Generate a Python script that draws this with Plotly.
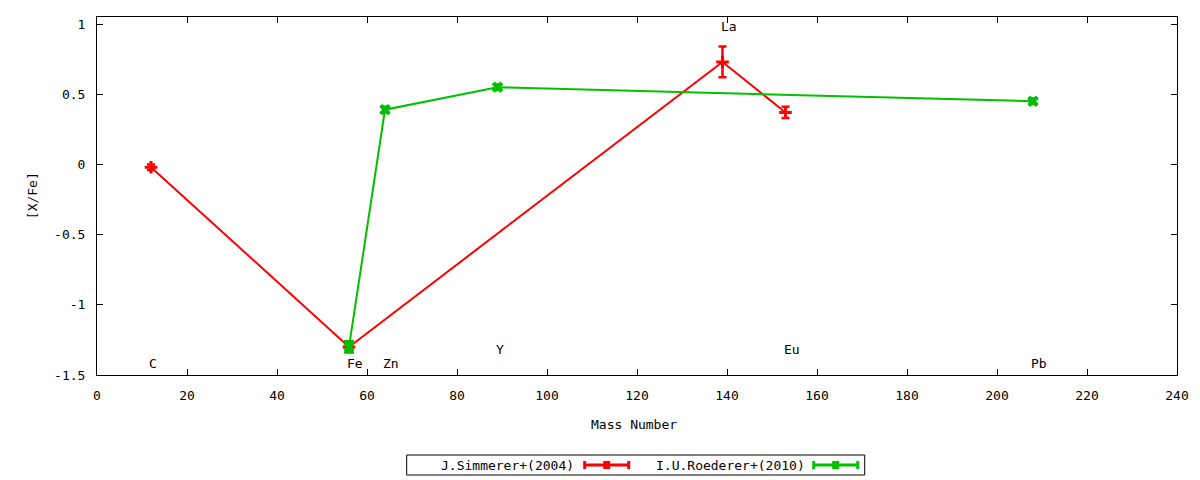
import plotly.graph_objects as go

# J.Simmerer+(2004)
simmerer_mass = [12, 56, 139, 153]
simmerer_xfe = [-0.02, -1.30, 0.73, 0.37]
simmerer_err = [0.02, 0.03, 0.11, 0.04]

# I.U.Roederer+(2010)
roederer_mass = [56, 64, 89, 208]
roederer_xfe = [-1.30, 0.39, 0.55, 0.45]
roederer_err = [0.04, 0.02, 0.02, 0.02]

# element labels
elem_names = ["C", "Fe", "Zn", "Y", "La", "Eu", "Pb"]
elem_x = [12, 56, 64, 89, 139, 153, 208]
elem_y = [-1.42, -1.42, -1.42, -1.32, 0.98, -1.32, -1.42]

RED = "#ff0000"
GREEN = "#00c000"
FONT = "DejaVu Sans Mono"

fig = go.Figure()

fig.add_trace(go.Scatter(
    x=simmerer_mass, y=simmerer_xfe,
    mode="lines+markers",
    name="J.Simmerer+(2004)",
    line=dict(color=RED, width=2),
    marker=dict(symbol="cross-thin", size=9, color=RED, line=dict(color=RED, width=3)),
    error_y=dict(type="data", array=simmerer_err, color=RED, thickness=2.5, width=4),
))

fig.add_trace(go.Scatter(
    x=roederer_mass, y=roederer_xfe,
    mode="lines+markers",
    name="I.U.Roederer+(2010)",
    line=dict(color=GREEN, width=2),
    marker=dict(symbol="x", size=10, color=GREEN),
    error_y=dict(type="data", array=roederer_err, color=GREEN, thickness=2.5, width=5),
))

annotations = []
for name, x, y in zip(elem_names, elem_x, elem_y):
    annotations.append(dict(
        x=x, y=y, xref="x", yref="y", text=name, showarrow=False,
        xanchor="left", yanchor="middle", xshift=-4,
        font=dict(family=FONT, size=13, color="black"),
    ))

# axis titles
annotations.append(dict(
    x=0.497, y=-0.139, xref="paper", yref="paper", text="Mass Number",
    showarrow=False, xanchor="center", yanchor="middle",
    font=dict(family=FONT, size=13, color="black"),
))
annotations.append(dict(
    x=-0.06, y=0.5, xref="paper", yref="paper", text="[X/Fe]", textangle=-90,
    showarrow=False, xanchor="center", yanchor="middle",
    font=dict(family=FONT, size=13, color="black"),
))

# gnuplot-style key below the plot (positions given in screen pixels)
def px(xp):
    return (xp - 97.3) / 1080.0


def py(yp):
    return (375.0 - yp) / 358.0


shapes = [dict(type="rect", xref="paper", yref="paper",
               x0=px(407), x1=px(865), y0=py(455), y1=py(475),
               line=dict(color="black", width=1), fillcolor="white")]

key = [("J.Simmerer+(2004)", RED, 576, 585, 629),
       ("I.U.Roederer+(2010)", GREEN, 807, 814, 858)]
for label, col, tx, l0, l1 in key:
    annotations.append(dict(
        x=px(tx), y=py(465), xref="paper", yref="paper", text=label,
        showarrow=False, xanchor="right", yanchor="middle",
        font=dict(family=FONT, size=13, color="black"),
    ))
    shapes.append(dict(type="line", xref="paper", yref="paper",
                       x0=px(l0), x1=px(l1), y0=py(465), y1=py(465),
                       line=dict(color=col, width=3)))
    for xe in (l0, l1):
        shapes.append(dict(type="line", xref="paper", yref="paper",
                           x0=px(xe), x1=px(xe), y0=py(461), y1=py(469),
                           line=dict(color=col, width=3)))
    mid = (l0 + l1) / 2
    shapes.append(dict(type="rect", xref="paper", yref="paper",
                       x0=px(mid - 3.5), x1=px(mid + 3.5), y0=py(461), y1=py(469),
                       line=dict(color=col, width=0), fillcolor=col))

# page body has an 8px margin, so the figure is offset by (8, 8)
fig.update_layout(
    width=1200, height=480,
    margin=dict(l=89, r=31, t=9, b=113),
    paper_bgcolor="white",
    plot_bgcolor="white",
    showlegend=False,
    font=dict(family=FONT, size=13, color="black"),
    annotations=annotations,
    shapes=shapes,
)

fig.update_xaxes(
    range=[0, 240], tickvals=list(range(0, 241, 20)),
    showgrid=False, zeroline=False,
    showline=True, linecolor="black", linewidth=1, mirror="allticks",
    ticks="inside", ticklen=6, tickcolor="black",
    ticklabelstandoff=8,
)
fig.update_yaxes(
    range=[-1.5, 1.05], tickvals=[-1.5, -1, -0.5, 0, 0.5, 1],
    ticktext=["-1.5", "-1", "-0.5", "0", "0.5", "1"],
    showgrid=False, zeroline=False,
    showline=True, linecolor="black", linewidth=1, mirror="allticks",
    ticks="inside", ticklen=6, tickcolor="black",
    ticklabelstandoff=8,
)

fig.write_html("out.html")
